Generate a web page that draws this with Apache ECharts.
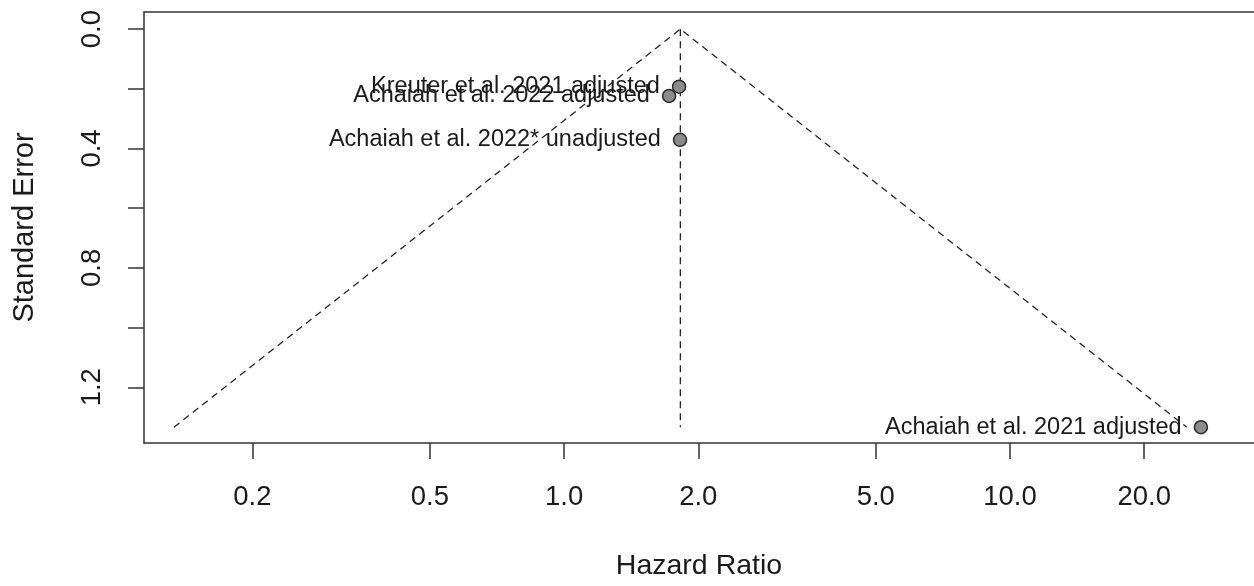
<!DOCTYPE html>
<html>
<head>
<meta charset="utf-8">
<script src="https://cdn.jsdelivr.net/npm/echarts@6/dist/echarts.min.js"></script>
<style>
html,body{margin:0;padding:0;background:#fff;}
#chart{width:1254px;height:586px;}
</style>
</head>
<body>
<div id="chart"></div>
<script>
// ---- data ----
const studies = [
  "Kreuter et al. 2021 adjusted",
  "Achaiah et al. 2022 adjusted",
  "Achaiah et al. 2022* unadjusted",
  "Achaiah et al. 2021 adjusted"
];
const hazardRatios = [1.811, 1.720, 1.820, 26.8];
const standardErrors = [0.193, 0.224, 0.371, 1.334];

// funnel outline (left bottom, apex, right bottom)
const funnelHR = [0.1334, 1.823, 24.9];
const funnelSE = [1.334, 0, 1.334];
// vertical reference line at pooled estimate
const centerHR = [1.823, 1.823];
const centerSE = [0, 1.334];

const xTickLabels = [0.2, 0.5, 1, 2, 5, 10, 20];
const yTickValues = [0, 0.2, 0.4, 0.6, 0.8, 1.0, 1.2];
const yLabelValues = [0, 0.4, 0.8, 1.2];

const xLimHR = [0.1143, 35.25];
const yLim = [-0.0574, 1.3868];

// ---- build ----
const lg = v => Math.log10(v);
const pts = studies.map((s, i) => ({ name: s, value: [lg(hazardRatios[i]), standardErrors[i]] }));
const funnel = funnelHR.map((h, i) => [lg(h), funnelSE[i]]);
const center = centerHR.map((h, i) => [lg(h), centerSE[i]]);

const FONT = "'Liberation Sans', Arial, Helvetica, sans-serif";
const TXT = '#1a1a1a';
const AX = { color: '#333', width: 1.5 };
const chart = echarts.init(document.getElementById('chart'), null, { renderer: 'canvas' });
const dashStyle = { color: '#222', width: 1.3, type: [7, 5] };

chart.setOption({
  animation: false,
  backgroundColor: '#ffffff',
  grid: { left: 144, top: 12, right: 0, bottom: 137, show: false },
  xAxis: [
    {
      type: 'value', position: 'bottom',
      min: lg(xLimHR[0]), max: lg(xLimHR[1]),
      name: 'Hazard Ratio', nameLocation: 'middle', nameGap: 109,
      nameTextStyle: { fontFamily: FONT, fontSize: 28.5, color: TXT },
      axisLine: { show: true, onZero: false, lineStyle: AX },
      splitLine: { show: false },
      axisTick: { show: true, length: 16, lineStyle: AX, customValues: xTickLabels.map(lg) },
      axisLabel: { show: true, margin: 40, fontFamily: FONT, fontSize: 27.5, color: TXT,
        customValues: xTickLabels.map(lg),
        formatter: v => Math.pow(10, v).toFixed(1) }
    },
    {
      type: 'value', position: 'top',
      min: lg(xLimHR[0]), max: lg(xLimHR[1]),
      axisLine: { show: true, onZero: false, lineStyle: AX },
      splitLine: { show: false }, axisTick: { show: false }, axisLabel: { show: false }
    }
  ],
  yAxis: {
    type: 'value', inverse: true, position: 'left',
    min: yLim[0], max: yLim[1],
    name: 'Standard Error', nameLocation: 'middle', nameGap: 105, nameRotate: 90,
    nameTextStyle: { fontFamily: FONT, fontSize: 29, color: TXT },
    axisLine: { show: true, onZero: false, lineStyle: AX },
    splitLine: { show: false },
    axisTick: { show: true, length: 16, lineStyle: AX, customValues: yTickValues },
    axisLabel: { show: true, rotate: 90, margin: 38, fontFamily: FONT, fontSize: 27.5, color: TXT,
      customValues: yLabelValues,
      formatter: v => Number(v).toFixed(1) }
  },
  series: [
    { type: 'line', data: funnel, symbol: 'none', lineStyle: dashStyle, z: 2, silent: true },
    { type: 'line', data: center, symbol: 'none', lineStyle: dashStyle, z: 2, silent: true },
    {
      type: 'scatter', data: pts, symbol: 'circle', symbolSize: 13, z: 5,
      itemStyle: { color: '#8c8c8c', borderColor: '#2a2a2a', borderWidth: 1.5, opacity: 1 },
      label: {
        show: true, position: 'left', distance: 12,
        formatter: p => p.name,
        fontFamily: FONT, fontSize: 23.5, color: TXT
      },
      labelLayout: { hideOverlap: false }
    }
  ]
});
</script>
</body>
</html>
